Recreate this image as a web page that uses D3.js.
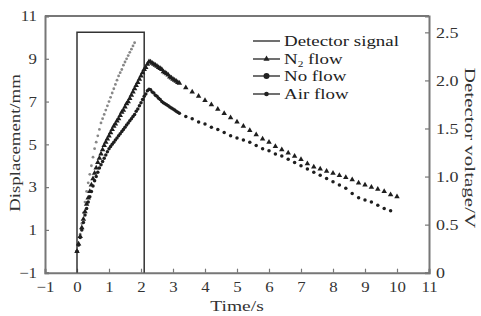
<!DOCTYPE html>
<html><head><meta charset="utf-8">
<script src="https://cdn.jsdelivr.net/npm/d3@7"></script>
<style>body{margin:0;background:#fff}svg{display:block}text{font-family:"Liberation Serif","Times New Roman",serif}</style>
</head><body><div id="c"></div>
<script>
// ---- data ----
const xTicks = [-1,0,1,2,3,4,5,6,7,8,9,10,11];
const yLeftTicks = [-1,1,3,5,7,9,11];
const yRightTicks = [0,0.5,1.0,1.5,2.0,2.5];
const yRightLabels = ["0","0.5","1.0","1.5","2.0","2.5"];

const detTime = [0,0,2.1,2.1];
const detVolt = [0,2.5,2.5,0];

const denseTime = [0,0.05,0.1,0.15,0.2,0.25,0.3,0.35,0.4,0.45,0.5,0.55,0.6,0.65,0.7,0.75,0.8,0.85,0.9,0.95,1.0,1.05,1.1,1.15,1.2,1.25,1.3,1.35,1.4,1.45,1.5,1.55,1.6,1.65,1.7,1.75,1.8,1.85,1.9,1.95,2.0,2.05,2.1,2.15,2.2,2.25,2.3,2.35,2.4,2.45,2.5,2.55,2.6,2.65,2.7,2.75,2.8,2.85,2.9,2.95,3.0,3.05,3.1,3.15,3.2];
const sparseTime = [3.4,3.6,3.8,4.0,4.2,4.4,4.6,4.8,5.0,5.2,5.4,5.6,5.8,6.0,6.2,6.4,6.6,6.8,7.0,7.2,7.4,7.6,7.8,8.0,8.2,8.4,8.6,8.8,9.0,9.2,9.4,9.6,9.8,10.0];

const n2Dense = [0,0.35,0.7,1.1,1.5,1.85,2.2,2.5,2.8,3.1,3.4,3.65,3.9,4.15,4.35,4.55,4.75,4.95,5.1,5.25,5.4,5.55,5.7,5.85,5.95,6.1,6.2,6.35,6.5,6.6,6.75,6.9,7.0,7.15,7.3,7.45,7.6,7.75,7.9,8.05,8.2,8.35,8.5,8.6,8.75,8.86,8.85,8.8,8.75,8.7,8.65,8.6,8.55,8.5,8.4,8.35,8.3,8.25,8.15,8.1,8.05,8.0,7.95,7.9,7.86];
const n2Sparse = [7.65,7.45,7.25,7.05,6.85,6.65,6.45,6.25,6.05,5.85,5.65,5.45,5.25,5.1,4.9,4.75,4.6,4.45,4.3,4.1,3.95,3.85,3.75,3.65,3.55,3.45,3.35,3.2,3.1,3.0,2.9,2.8,2.65,2.55];

const airDense = [0,0.3,0.65,1.0,1.35,1.7,2.0,2.3,2.55,2.8,3.05,3.3,3.5,3.7,3.9,4.05,4.2,4.35,4.5,4.65,4.8,4.9,5.0,5.1,5.2,5.3,5.4,5.5,5.6,5.7,5.8,5.9,6.0,6.1,6.2,6.3,6.4,6.55,6.65,6.8,6.95,7.1,7.25,7.35,7.5,7.57,7.55,7.45,7.4,7.3,7.25,7.15,7.1,7.0,6.95,6.9,6.85,6.8,6.75,6.7,6.65,6.6,6.55,6.5,6.45];
const airSparse = [6.3,6.2,6.05,5.95,5.8,5.7,5.55,5.4,5.3,5.2,5.1,4.95,4.8,4.7,4.55,4.45,4.3,4.15,4.0,3.85,3.7,3.55,3.4,3.25,3.1,2.95,2.7,2.5,2.4,2.3,2.15,2.0,1.9];

const noFlowTime = [0,0.05,0.1,0.15,0.2,0.25,0.3,0.35,0.4,0.45,0.5,0.55,0.6,0.65,0.7,0.75,0.8,0.85,0.9,0.95,1.0,1.05,1.1,1.15,1.2,1.25,1.3,1.35,1.4,1.45,1.5,1.55,1.6,1.65,1.7,1.75,1.8];
const noFlow = [0,0.3,0.8,1.3,1.8,2.3,2.8,3.2,3.6,4.0,4.4,4.8,5.1,5.4,5.7,6.0,6.2,6.4,6.6,6.8,7.0,7.2,7.4,7.6,7.8,8.0,8.2,8.35,8.5,8.7,8.85,9.0,9.15,9.3,9.45,9.6,9.75];

// ---- chart ----
const W=481,H=316;
const svg=d3.select("#c").append("svg").attr("width",W).attr("height",H);
const x=d3.scaleLinear().domain([-1,11]).range([45,429]);
const yL=d3.scaleLinear().domain([-1,11]).range([272.7,16]);
const yR=d3.scaleLinear().domain([0,2.67]).range([272.7,16]);
const axisCol="#777", txtCol="#333";

function stretch(sel,f){sel.each(function(){const w=this.getComputedTextLength();this.setAttribute("textLength",w*f);this.setAttribute("lengthAdjust","spacingAndGlyphs");});}

// frame
svg.append("line").attr("x1",x(-1)).attr("x2",x(11)).attr("y1",yL(11)).attr("y2",yL(11)).attr("stroke",axisCol).attr("stroke-width",2);

const ax=svg.append("g").attr("transform",`translate(0,${yL(-1)})`)
  .call(d3.axisBottom(x).tickValues(xTicks).tickSize(-4).tickPadding(9).tickFormat(d=>d<0?"−"+(-d):d));
const ayl=svg.append("g").attr("transform",`translate(${x(-1)},0)`)
  .call(d3.axisLeft(yL).tickValues(yLeftTicks).tickSize(-4).tickPadding(8).tickFormat(d=>d<0?"−"+(-d):d));
const ayr=svg.append("g").attr("transform",`translate(${x(11)},0)`)
  .call(d3.axisRight(yR).tickValues(yRightTicks).tickSize(-4).tickPadding(7).tickFormat((d,i)=>yRightLabels[i]));
[ax,ayl,ayr].forEach(g=>{
  g.select(".domain").attr("stroke",axisCol).attr("stroke-width",2);
  g.selectAll(".tick line").attr("stroke",axisCol).attr("stroke-width",1.2);
  g.selectAll(".tick text").attr("fill",txtCol).style("font-size","15px").style("font-family",'"Liberation Serif",serif');
});
stretch(ax.selectAll(".tick text"),1.12);
stretch(ayl.selectAll(".tick text"),1.12);
stretch(ayr.selectAll(".tick text"),1.2);

// titles
stretch(svg.append("text").attr("x",x(5)).attr("y",311).attr("text-anchor","middle").attr("fill",txtCol).style("font-size","15px").text("Time/s"),1.3);
stretch(svg.append("text").attr("transform",`translate(20,${143}) rotate(-90)`).attr("text-anchor","middle").attr("fill",txtCol).style("font-size","15px").text("Displacement/mm"),1.25);
stretch(svg.append("text").attr("transform",`translate(465,${148}) rotate(90)`).attr("text-anchor","middle").attr("fill",txtCol).style("font-size","15px").text("Detector voltage/V"),1.4);

// detector signal
const det=detTime.map((t,i)=>[t,detVolt[i]]);
svg.append("path").datum(det).attr("fill","none").attr("stroke","#333").attr("stroke-width",1.5)
  .attr("d",d3.line().x(d=>x(d[0])).y(d=>yR(d[1])));

const col="#1e1e1e";
function pts(times, vals){return times.map((t,i)=>[t,vals[i]]);}
const n2=pts(denseTime,n2Dense).concat(pts(sparseTime,n2Sparse));
const air=pts(denseTime,airDense).concat(pts(sparseTime.slice(0,airSparse.length),airSparse));
const nof=pts(noFlowTime,noFlow);

// no flow (gray dots)
svg.append("g").selectAll("circle").data(nof).join("circle")
  .attr("cx",d=>x(d[0])).attr("cy",d=>yL(d[1])).attr("r",1.4).attr("fill","#888");
// air flow
svg.append("g").selectAll("circle").data(air).join("circle")
  .attr("cx",d=>x(d[0])).attr("cy",d=>yL(d[1])).attr("r",1.75).attr("fill",col);
// N2 (triangles)
const tri=d3.symbol().type(d3.symbolTriangle).size(13);
svg.append("g").selectAll("path").data(n2).join("path")
  .attr("transform",d=>`translate(${x(d[0])},${yL(d[1])})`).attr("d",tri).attr("fill",col);

// legend
const lg=svg.append("g");
const rows=[{y:41,label:"Detector signal",m:null},{y:59,label:"N",sub:"2",rest:" flow",m:"tri"},{y:76,label:"No flow",m:"big"},{y:94,label:"Air flow",m:"small"}];
rows.forEach(r=>{
  lg.append("line").attr("x1",253).attr("x2",280).attr("y1",r.y).attr("y2",r.y).attr("stroke","#222").attr("stroke-width",1.3);
  if(r.m==="tri") lg.append("path").attr("transform",`translate(266.5,${r.y})`).attr("d",d3.symbol().type(d3.symbolTriangle).size(16)).attr("fill","#222");
  if(r.m==="big") lg.append("circle").attr("cx",266.5).attr("cy",r.y).attr("r",3).attr("fill","#222");
  if(r.m==="small") lg.append("circle").attr("cx",266.5).attr("cy",r.y).attr("r",2.3).attr("fill","#222");
  const t=lg.append("text").attr("x",284).attr("y",r.y+5).attr("fill","#222").style("font-size","15px");
  t.append("tspan").text(r.label);
  if(r.sub){t.append("tspan").attr("dy",3).style("font-size","9px").text(r.sub);t.append("tspan").attr("dy",-3).text(r.rest);}
  stretch(t,1.26);
});
</script></body></html>
